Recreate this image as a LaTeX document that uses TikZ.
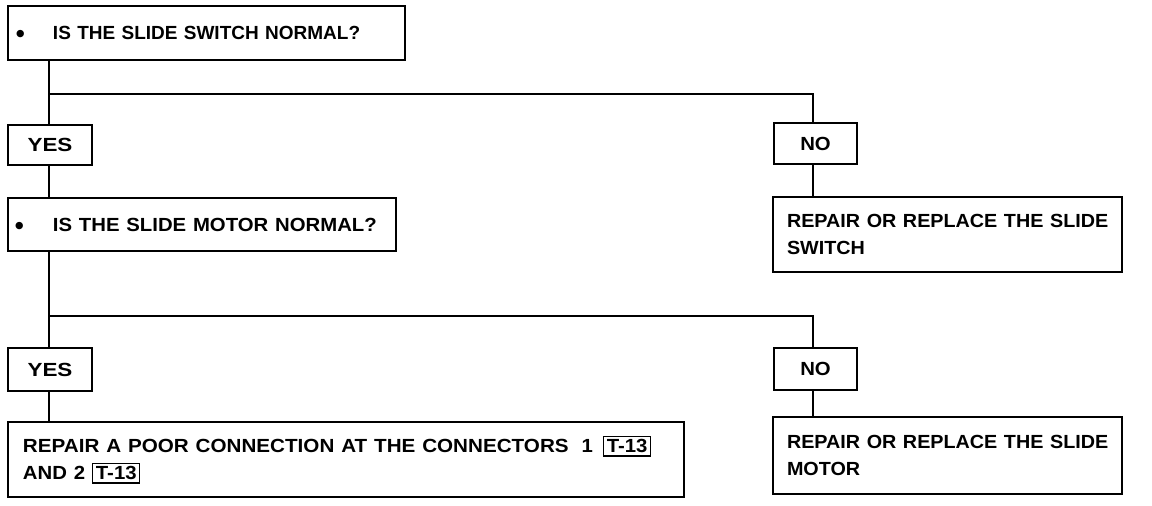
\documentclass[tikz,border=0pt]{standalone}
\usepackage{fontspec}
\setmainfont{Liberation Sans}
\newcommand\sx[2][1.07]{\scalebox{#1}[1]{#2}}
\newcommand\bigdot{\smash{\raisebox{-3.2pt}{\scalebox{1.35}{\textbullet}}}}
\newcommand\refbox[1]{{\setlength{\fboxsep}{1pt}\setlength{\fboxrule}{1.3pt}\fbox{\rule[-1.7pt]{0pt}{16.4pt}\hspace{1.5pt}\sx{#1}\hspace{1.5pt}}}}
\begin{document}
\begin{tikzpicture}[x=1pt,y=-1pt,
  box/.style={draw,line width=1.8pt,font=\bfseries\fontsize{19}{27}\selectfont,inner ysep=0pt,anchor=center},
  ansbox/.style={box,minimum width=#1,inner xsep=0pt},
  wire/.style={line width=1.8pt}]
\useasboundingbox[fill=white] (0,0) rectangle (1152,506);
% questions
\node[box,inner xsep=8pt,text width=381pt,align=left,minimum height=54pt] (q1) at (206.5,33)
  {\makebox[37pt][l]{\bigdot}IS THE SLIDE SWITCH NORMAL?};
\node[box,inner xsep=7pt,text width=374pt,align=left,minimum height=53pt] (q2) at (202,224.5)
  {\makebox[38pt][l]{\bigdot}\sx{IS THE SLIDE MOTOR NORMAL?}};
% answers
\node[ansbox=84pt,minimum height=40pt] (yes1) at (50,145) {\sx[1.18]{YES}\hspace{8pt}};
\node[ansbox=83pt,minimum height=41pt] (no1) at (815.5,143.5) {\sx{NO}};
\node[ansbox=84pt,minimum height=43pt] (yes2) at (50,369.5) {\sx[1.18]{YES}\hspace{8pt}};
\node[ansbox=83pt,minimum height=42pt] (no2) at (815.5,369) {\sx{NO}};
% actions
\node[box,inner xsep=14pt,text width=321pt,align=left,minimum height=75pt] (r1) at (947.5,234.5)
  {\sx[1.04]{REPAIR OR REPLACE THE SLIDE}\\\sx[1.04]{SWITCH}};
\node[box,inner xsep=14pt,text width=321pt,align=left,minimum height=77pt] (r2) at (947.5,455.5)
  {\sx[1.04]{REPAIR OR REPLACE THE SLIDE}\\\sx[1.04]{MOTOR}};
\node[box,inner xsep=15pt,text width=646pt,align=left,minimum height=75pt] (fin) at (346,459.5)
  {\sx[1.086]{REPAIR A POOR CONNECTION AT THE CONNECTORS}\hspace{13pt}\sx{1}\hspace{10pt}\refbox{T-13}\\
   \sx{AND 2}\hspace{7pt}\refbox{T-13}};
% junctions
\coordinate (j1) at (49,94);
\coordinate (k1) at (813,94);
\coordinate (j2) at (49,316);
\coordinate (k2) at (813,316);
% connectors
\draw[wire] (j1 |- q1.south) -- (j1 |- yes1.north);
\draw[wire] (j1) -- (k1) -- (k1 |- no1.north);
\draw[wire] (j1 |- yes1.south) -- (j1 |- q2.north);
\draw[wire] (k1 |- no1.south) -- (k1 |- r1.north);
\draw[wire] (j2 |- q2.south) -- (j2 |- yes2.north);
\draw[wire] (j2) -- (k2) -- (k2 |- no2.north);
\draw[wire] (j2 |- yes2.south) -- (j2 |- fin.north);
\draw[wire] (k2 |- no2.south) -- (k2 |- r2.north);
\end{tikzpicture}
\end{document}
